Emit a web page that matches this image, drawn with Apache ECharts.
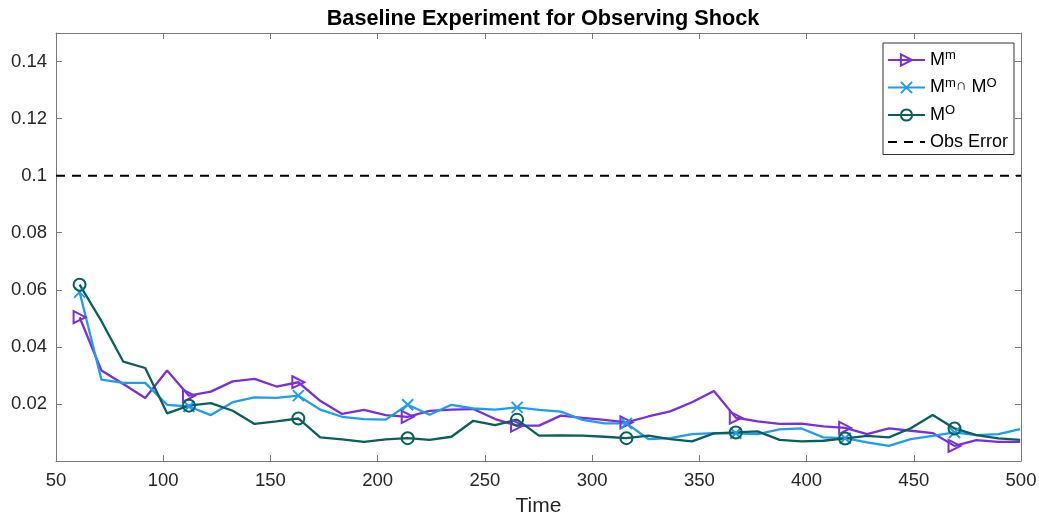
<!DOCTYPE html>
<html>
<head>
<meta charset="utf-8">
<script src="https://cdn.jsdelivr.net/npm/echarts@6/dist/echarts.min.js"></script>
<style>html,body{margin:0;padding:0;background:#fff;}#chart{width:1039px;height:514px;}</style>
</head>
<body>
<div id="chart"></div>
<script>
var times = [61, 71.2, 81.4, 91.6, 101.8, 112, 122.2, 132.4, 142.6, 152.8,
  163, 173.2, 183.4, 193.6, 203.8, 214, 224.2, 234.4, 244.6, 254.8,
  265, 275.2, 285.4, 295.6, 305.8, 316, 326.2, 336.4, 346.6, 356.8,
  367, 377.2, 387.4, 397.6, 407.8, 418, 428.2, 438.4, 448.6, 458.8,
  469, 479.2, 489.4, 499.6];
var seriesMm = [0.0504, 0.0317, 0.0270, 0.0221, 0.0317, 0.0229, 0.0243, 0.0279, 0.0288, 0.0261,
  0.0276, 0.0211, 0.0165, 0.0179, 0.0161, 0.0155, 0.0176, 0.0180, 0.0182, 0.0147,
  0.0124, 0.0124, 0.0159, 0.0151, 0.0144, 0.0135, 0.0156, 0.0174, 0.0206, 0.0245,
  0.0152, 0.0139, 0.0130, 0.0131, 0.0121, 0.0116, 0.0094, 0.0114, 0.0106, 0.0098,
  0.0053, 0.0073, 0.0067, 0.0067];
var seriesMmMO = [0.0592, 0.0285, 0.0274, 0.0274, 0.0197, 0.0191, 0.0161, 0.0206, 0.0223, 0.0221,
  0.0229, 0.0180, 0.0155, 0.0147, 0.0145, 0.0197, 0.0162, 0.0197, 0.0184, 0.0180,
  0.0188, 0.0179, 0.0173, 0.0144, 0.0132, 0.0132, 0.0077, 0.0080, 0.0094, 0.0098,
  0.0097, 0.0094, 0.0111, 0.0114, 0.0083, 0.0080, 0.0065, 0.0053, 0.0077, 0.0088,
  0.0100, 0.0091, 0.0094, 0.0112];
var seriesMO = [0.0618, 0.0490, 0.0348, 0.0326, 0.0167, 0.0194, 0.0203, 0.0176, 0.0130, 0.0139,
  0.0149, 0.0083, 0.0076, 0.0067, 0.0076, 0.0080, 0.0074, 0.0085, 0.0141, 0.0126,
  0.0145, 0.0089, 0.0090, 0.0089, 0.0085, 0.0080, 0.0089, 0.0077, 0.0069, 0.0097,
  0.0100, 0.0104, 0.0074, 0.0069, 0.0071, 0.0079, 0.0088, 0.0083, 0.0115, 0.0161,
  0.0114, 0.0091, 0.0079, 0.0074];
var obsError = 0.1;
var obsRange = [50, 500];
var markerIdx = [0, 5, 10, 15, 20, 25, 30, 35, 40];
var xTicks = [50, 100, 150, 200, 250, 300, 350, 400, 450, 500];
var yTicks = [0.02, 0.04, 0.06, 0.08, 0.1, 0.12, 0.14];

var FONT = '"Liberation Sans", Arial, Helvetica, sans-serif';
var cPurple = '#7B2FD9', cBlue = '#1F9CEE', cGreen = '#0B5F5A';

function build(vals) {
  return vals.map(function (v, i) {
    var item = { value: [times[i], v] };
    if (markerIdx.indexOf(i) < 0) item.symbol = 'none';
    return item;
  });
}
function lineSeries(name, vals, color, symbol, size) {
  return {
    name: name, type: 'line', data: build(vals),
    symbol: symbol, symbolSize: size, showSymbol: true,
    lineStyle: { color: color, width: 2.3 },
    itemStyle: { color: 'rgba(0,0,0,0)', borderColor: color, borderWidth: 2 },
    emphasis: { disabled: true }, animation: false, z: 3
  };
}
var yAxisBase = {
  type: 'value', min: 0, max: 0.15, interval: 0.02,
  axisLine: { show: true, lineStyle: { color: '#7a7a7a', width: 1 } },
  axisTick: { show: true, inside: true, length: 6, lineStyle: { color: '#7a7a7a' } },
  splitLine: { show: false }
};
var xAxisBase = {
  type: 'value', min: 50, max: 500, interval: 50,
  axisLine: { show: true, onZero: false, lineStyle: { color: '#7a7a7a', width: 1 } },
  axisTick: { show: true, inside: true, length: 6, lineStyle: { color: '#7a7a7a' } },
  splitLine: { show: false }
};
var names = { 'Mm': 'M{s|m}', 'MmMO': 'M{s|m}{c|∩} M{s|O}', 'MO': 'M{s|O}', 'Obs Error': 'Obs Error' };

var chart = echarts.init(document.getElementById('chart'), null, { renderer: 'canvas' });
chart.setOption({
  animation: false,
  backgroundColor: '#fff',
  title: {
    text: 'Baseline Experiment for Observing Shock', left: 538, top: 3, textAlign: 'center',
    textStyle: { fontFamily: FONT, fontSize: 21.7, fontWeight: 'bold', color: '#000' }
  },
  grid: { left: 56, right: 18, top: 33, bottom: 53, outerBoundsMode: 'none', containLabel: false },
  xAxis: [
    Object.assign({}, xAxisBase, {
      position: 'bottom', name: 'Time', nameLocation: 'middle', nameGap: 35,
      nameTextStyle: { fontFamily: FONT, fontSize: 21, color: '#262626' },
      axisLabel: { fontFamily: FONT, fontSize: 18.5, color: '#262626', margin: 10,
        formatter: function (v) { return xTicks.indexOf(v) >= 0 ? String(v) : ''; } }
    }),
    Object.assign({}, xAxisBase, { position: 'top', axisLabel: { show: false } })
  ],
  yAxis: [
    Object.assign({}, yAxisBase, {
      position: 'left',
      axisLabel: { fontFamily: FONT, fontSize: 18.5, color: '#262626', margin: 9,
        formatter: function (v) {
          for (var i = 0; i < yTicks.length; i++) if (Math.abs(v - yTicks[i]) < 1e-9) return String(yTicks[i]);
          return '';
        } }
    }),
    Object.assign({}, yAxisBase, { position: 'right', axisLabel: { show: false } })
  ],
  legend: {
    orient: 'vertical', left: 883, top: 43,
    data: ['Mm', 'MmMO', 'MO', { name: 'Obs Error', itemStyle: { opacity: 0 } }],
    backgroundColor: '#fff', borderColor: '#333', borderWidth: 1,
    padding: [6, 6, 2, 4], itemGap: 6, itemWidth: 37, itemHeight: 14,
    formatter: function (n) { return names[n]; },
    textStyle: {
      fontFamily: FONT, fontSize: 18, color: '#000', lineHeight: 21,
      rich: {
        s: { fontFamily: FONT, fontSize: 13, color: '#000', padding: [0, 0, 9, 0] },
        c: { fontFamily: FONT, fontSize: 15, color: '#000', padding: [0, 0, 3, 0] }
      }
    }
  },
  series: [
    lineSeries('Mm', seriesMm, cPurple, 'path://M0,0 L10,5 L0,10 Z', 12),
    lineSeries('MmMO', seriesMmMO, cBlue, 'path://M0,0 L10,10 M10,0 L0,10', 11),
    lineSeries('MO', seriesMO, cGreen, 'circle', 12),
    {
      name: 'Obs Error', type: 'line', symbol: 'none',
      data: [[obsRange[0], obsError], [obsRange[1], obsError]],
      lineStyle: { color: '#000', width: 2, type: [9, 7] },
      itemStyle: { color: '#000' }, z: 2
    }
  ]
});
</script>
</body>
</html>
